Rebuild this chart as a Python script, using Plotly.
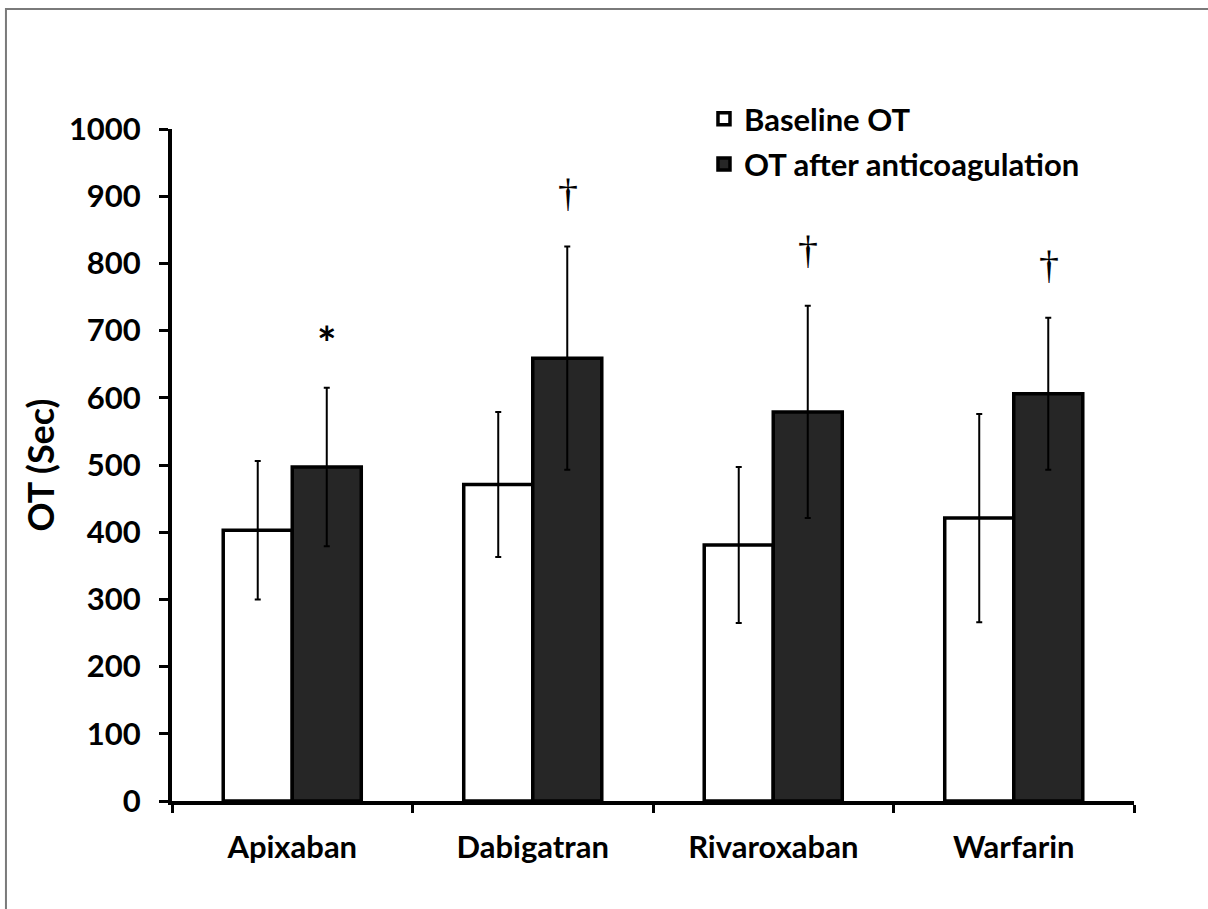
import plotly.graph_objects as go

categories = ["Apixaban", "Dabigatran", "Rivaroxaban", "Warfarin"]
baseline = [403, 471, 381, 421]
baseline_sd = [103, 108, 116, 155]
after = [497, 659, 579, 606]
after_sd = [118, 166, 158, 113]
series_names = ["Baseline OT", "OT after anticoagulation"]
sig_symbols = ["*", "†", "†", "†"]
sig_y = [682, 906, 820, 799]
y_ticks = [0, 100, 200, 300, 400, 500, 600, 700, 800, 900, 1000]

FONT = "Lato"

fig = go.Figure()
fig.add_trace(go.Bar(
    x=categories, y=baseline, name=series_names[0], legendgroup="a",
    marker=dict(color="white", line=dict(color="black", width=3.5)),
    error_y=dict(type="data", array=baseline_sd, visible=True,
                 color="black", thickness=2, width=3),
))
fig.add_trace(go.Bar(
    x=categories, y=after, name=series_names[1], legendgroup="b",
    marker=dict(color="#262626", line=dict(color="black", width=3.5)),
    error_y=dict(type="data", array=after_sd, visible=True,
                 color="black", thickness=2, width=3),
))

for cat, sym, yv in zip(categories, sig_symbols, sig_y):
    bold = sym == "*"
    fig.add_annotation(
        x=cat, y=yv, xref="x", yref="y", text=sym, showarrow=False,
        xshift=35, yanchor="middle",
        font=dict(family=FONT if bold else "Liberation Serif", size=46 if bold else 40,
                  color="black", weight="bold" if bold else "normal"),
    )

# outer frame
fig.add_shape(type="rect", xref="paper", yref="paper",
              x0=-0.1726, x1=1.3, y0=-0.4, y1=1.1786,
              line=dict(color="#7a7a7a", width=2), fillcolor="rgba(0,0,0,0)")

fig.update_layout(
    width=1208, height=909,
    margin=dict(l=172, r=74, t=129, b=108, autoexpand=False),
    paper_bgcolor="white", plot_bgcolor="white",
    font=dict(family=FONT, size=31, color="black", weight="bold"),
    barmode="group", bargap=0.426, bargroupgap=0,
    showlegend=True,
    legend=dict(x=0.553, y=1.055, xanchor="left", yanchor="top",
                bgcolor="rgba(0,0,0,0)", traceorder="grouped",
                tracegroupgap=2,
                font=dict(family=FONT, size=31, color="black", weight="bold")),
    xaxis=dict(
        showline=True, linecolor="black", linewidth=4,
        ticks="outside", tickson="boundaries", ticklen=8, tickwidth=3,
        tickcolor="black", ticklabelstandoff=16, showgrid=False,
        tickfont=dict(family=FONT, size=31, color="black", weight="bold"),
    ),
    yaxis=dict(
        range=[0, 1000], tickvals=y_ticks, showline=True, linecolor="black",
        linewidth=4, ticks="outside", ticklen=9, tickwidth=3, tickcolor="black",
        showgrid=False, zeroline=False, ticklabelstandoff=12,
        tickfont=dict(family=FONT, size=31, color="black", weight="bold"),
        title=dict(text="OT (Sec)", standoff=4,
                   font=dict(family=FONT, size=36, color="black", weight="bold")),
    ),
)

fig.write_html("out.html", config={"displayModeBar": False},
               post_script="document.body.style.margin='0';")
